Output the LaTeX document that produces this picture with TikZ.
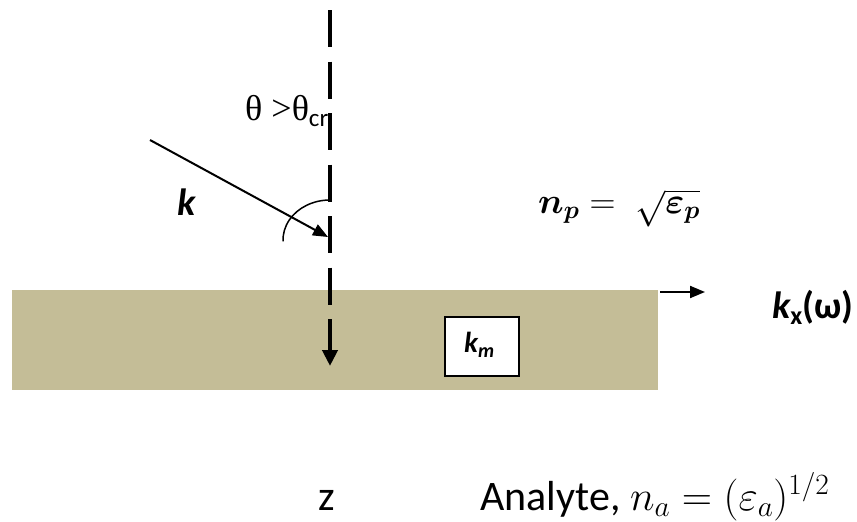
\RequirePackage{fix-cm}
\documentclass[tikz,border=0pt]{standalone}
\usepackage{amsmath}
\usepackage{fontspec}
\setmainfont{Carlito}
\newfontfamily\serifgr{Liberation Serif}
\usetikzlibrary{arrows.meta}
\definecolor{tanfill}{HTML}{C4BD97}
\tikzset{
  lbl/.style={inner sep=0pt, anchor=base west},
  big/.style={font=\fontsize{38}{44}\selectfont},
  bottomtext/.style={font=\fontsize{42}{48}\selectfont},
  axisline/.style={line width=4pt, dash pattern=on 37pt off 14.5pt, -{Triangle[width=15pt,length=16pt]}},
  thinarrow/.style={line width=2pt, -{Triangle[width=12pt,length=15pt]}},
}
\begin{document}
\begin{tikzpicture}[x=1pt,y=1pt]
\useasboundingbox (0,0) rectangle (857,-522);
% prism
\node[fill=tanfill, draw=none, inner sep=0pt, minimum width=646pt, minimum height=100pt, anchor=north west] (prism) at (12,-290) {};
% labels
\node[lbl, font=\fontsize{36}{42}\selectfont] (theta) at (245,-120) {{\serifgr θ >θ}\raisebox{-6pt}{\fontsize{25}{25}\selectfont cr}};
\node[lbl, big] (klbl) at (177,-215) {\bfseries\itshape k};
\node[lbl, font=\fontsize{36}{42}\selectfont] (np) at (538,-213) {$\boldsymbol{n_p} = \;\sqrt{\boldsymbol{\varepsilon_p}}$};
\node[lbl, big] (kx) at (772,-318) {\bfseries{\itshape k}\raisebox{-6pt}{\fontsize{26}{26}\selectfont x}(ω)};
\node[lbl, bottomtext] (zlbl) at (318,-510) {z};
\node[lbl, bottomtext] (analyte) at (480,-510) {Analyte, $n_a = (\varepsilon_a)^{1/2}$};
% normal (dashed) line
\coordinate (ntop) at (330,-10);
\coordinate (nbot) at (330,-366);
\draw[axisline] (ntop) -- (nbot);
% incident wave vector
\coordinate (kstart) at (150,-140);
\coordinate (kend) at (328,-237);
\draw[thinarrow] (kstart) -- (kend);
% angle arc
\coordinate (arctop) at (330,-200);
\draw[line width=1.5pt] (arctop) arc[start angle=90, end angle=182, x radius=47, y radius=40];
% kx arrow
\coordinate (kxs) at (660,-292);
\coordinate (kxe) at (705,-292);
\draw[thinarrow] (kxs) -- (kxe);
% km box
\node[draw, line width=1.5pt, fill=white, minimum width=74pt, minimum height=59pt, inner sep=0pt, anchor=north west] (kmbox) at (444,-316) {};
\node[lbl, font=\fontsize{29}{34}\selectfont] (km) at (464,-352) {\bfseries\itshape k\raisebox{-5pt}{\fontsize{20}{20}\selectfont m}};
\end{tikzpicture}
\end{document}
